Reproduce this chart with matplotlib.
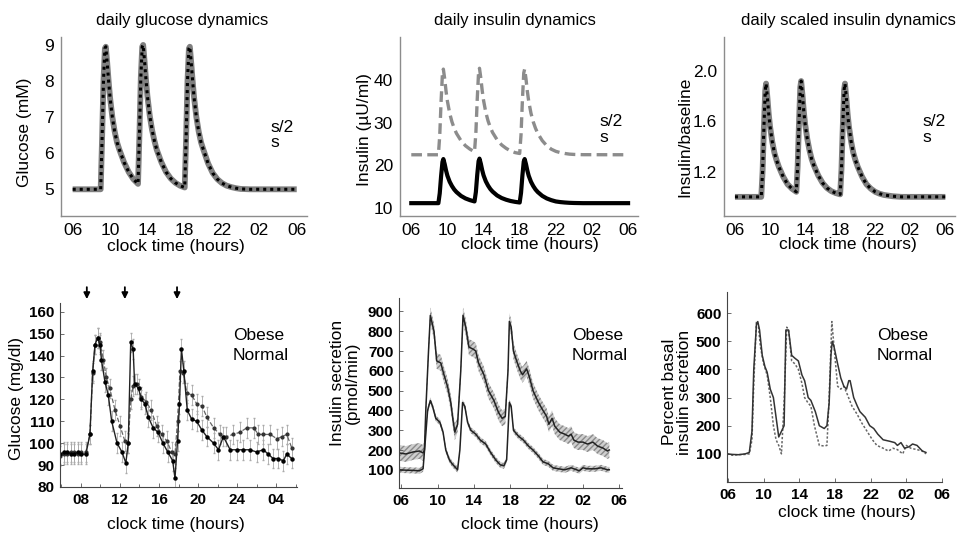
import matplotlib.pyplot as plt

plt.rcParams['font.family'] = ['Liberation Sans', 'DejaVu Sans']

# ---- model simulations (top row) ----
t_model = [6.0, 9.0,
           9.15, 9.3, 9.45, 9.55, 9.7, 9.85, 10.0, 10.25, 10.5, 10.75, 11.0, 11.5, 12.0, 12.5, 13.0,
           13.15, 13.3, 13.45, 13.55, 13.7, 13.85, 14.0, 14.25, 14.5, 14.75, 15.0, 15.5, 16.0, 16.5, 17.0, 17.5, 18.0,
           18.15, 18.3, 18.45, 18.55, 18.7, 18.85, 19.0, 19.25, 19.5, 19.75, 20.0, 20.5, 21.0, 21.5, 22.0, 22.5,
           23.0, 23.5, 24.0, 25.0, 30.0]

glucose_model = [5.0, 5.0,
                 6.4, 8.0, 8.9, 8.95, 8.5, 8.0, 7.55, 7.0, 6.6, 6.3, 6.1, 5.75, 5.48, 5.28, 5.15,
                 6.5, 8.1, 8.95, 9.0, 8.55, 8.05, 7.6, 7.05, 6.65, 6.35, 6.1, 5.75, 5.48, 5.3, 5.18, 5.1, 5.05,
                 6.4, 8.0, 8.9, 8.95, 8.5, 8.0, 7.55, 7.0, 6.6, 6.3, 6.1, 5.72, 5.45, 5.28, 5.17, 5.1,
                 5.06, 5.03, 5.01, 5.0, 5.0]

insulin_s = [11.2, 11.2,
             13.5, 17.5, 20.8, 21.5, 20.3, 18.8, 17.6, 16.2, 15.2, 14.4, 13.8, 12.9, 12.3, 11.9, 11.6,
             13.8, 17.8, 21.0, 21.6, 20.4, 18.9, 17.7, 16.3, 15.3, 14.5, 13.9, 13.0, 12.4, 12.0, 11.7, 11.5, 11.35,
             13.6, 17.6, 20.9, 21.5, 20.3, 18.8, 17.6, 16.2, 15.2, 14.4, 13.8, 12.9, 12.3, 11.9, 11.6, 11.45,
             11.35, 11.28, 11.24, 11.2, 11.2]

insulin_s2 = [22.5, 22.5,
              27.0, 35.0, 41.5, 42.5, 40.2, 37.3, 35.0, 32.2, 30.2, 28.7, 27.5, 25.8, 24.6, 23.8, 23.2,
              27.6, 35.4, 41.8, 42.7, 40.4, 37.5, 35.2, 32.4, 30.4, 28.9, 27.7, 26.0, 24.8, 24.0, 23.4, 23.0, 22.8,
              27.2, 35.1, 41.6, 42.5, 40.2, 37.3, 35.0, 32.2, 30.2, 28.7, 27.5, 25.8, 24.6, 23.8, 23.3, 23.0,
              22.8, 22.65, 22.58, 22.52, 22.5]

scaled_model = [1.0, 1.0,
                1.2, 1.55, 1.84, 1.9, 1.79, 1.66, 1.56, 1.44, 1.35, 1.29, 1.24, 1.16, 1.1, 1.065, 1.04,
                1.24, 1.58, 1.87, 1.92, 1.81, 1.68, 1.58, 1.46, 1.37, 1.3, 1.25, 1.17, 1.11, 1.07, 1.045, 1.03, 1.02,
                1.22, 1.56, 1.85, 1.9, 1.79, 1.66, 1.56, 1.44, 1.35, 1.29, 1.24, 1.16, 1.1, 1.065, 1.04, 1.025,
                1.015, 1.01, 1.005, 1.0, 1.0]

model_ticks = [6, 10, 14, 18, 22, 26, 30]
model_ticklabels = ['06', '10', '14', '18', '22', '02', '06']

# ---- measured data (bottom row) ----
glu_t_normal = [5.9, 6.3, 6.6, 7.0, 7.3, 7.7, 8.0, 8.5, 8.92, 9.2, 9.44, 9.7, 9.95, 10.1, 10.46, 10.8,
                11.15, 11.7, 12.2, 12.6, 12.85, 13.1, 13.35, 13.5, 13.9, 14.2, 14.55, 14.9, 15.4, 15.9,
                16.4, 16.9, 17.4, 17.64, 17.9, 18.1, 18.3, 18.55, 18.9, 19.35, 19.86, 20.4, 20.9, 21.6,
                22.1, 22.6, 23.3, 24.0, 24.6, 25.3, 26.0, 26.7, 27.2, 27.7, 28.2, 28.75, 29.1, 29.6]
glu_normal = [95, 96, 96, 95, 95, 96, 95, 95, 104, 133, 145, 148, 145, 138, 128, 122,
              110, 100, 96, 91, 100, 146, 143, 127, 125, 120, 118, 112, 107, 105,
              100, 96, 92, 84, 101, 118, 143, 133, 115, 111, 110, 106, 103, 100,
              97, 103, 97, 97, 97, 97, 96, 97, 95, 93, 93, 92, 95, 93]
glu_t_obese = [5.9, 6.3, 6.6, 7.0, 7.3, 7.7, 8.0, 8.5, 8.92, 9.2, 9.44, 9.7, 9.95, 10.3, 10.6, 10.95,
               11.5, 12.0, 12.5, 12.85, 13.1, 13.35, 13.7, 14.2, 14.7, 15.2, 15.75, 16.3, 16.8, 17.3,
               17.64, 17.9, 18.15, 18.5, 18.85, 19.35, 19.86, 20.4, 20.9, 21.6, 22.25, 22.9, 23.6,
               24.3, 25.0, 25.7, 26.2, 26.7, 27.4, 28.1, 28.6, 29.1, 29.6]
glu_obese = [94, 95, 95, 96, 96, 95, 96, 96, 104, 132, 145, 148, 146, 138, 130, 125,
             115, 108, 101, 100, 120, 126, 127, 121, 119, 115, 108, 104, 101, 96,
             95, 110, 133, 132, 123, 122, 118, 117, 112, 107, 104, 103, 104,
             105, 107, 107, 104, 104, 104, 102, 103, 104, 98]
glu_err = 4.5
meal_times = [8.6, 12.5, 17.85]

sec_t_obese = [5.8, 6.5, 7.3, 8.0, 8.4, 8.55, 8.7, 9.0, 9.2, 9.6, 9.9, 10.35, 10.7, 11.1, 11.45, 11.7,
               11.9, 12.2, 12.55, 12.8, 13.1, 13.45, 13.9, 14.2, 14.5, 15.1, 15.6, 16.2, 16.7, 17.1,
               17.45, 17.75, 17.9, 18.1, 18.35, 18.7, 19.1, 19.35, 19.8, 20.1, 20.5, 21.1, 21.6, 22.0,
               22.25, 22.6, 22.9, 23.45, 24.0, 24.4, 24.7, 25.0, 25.45, 26.0, 26.5, 27.1, 27.6, 28.2,
               28.7, 28.9]
sec_obese = [185, 180, 190, 195, 185, 200, 400, 700, 880, 800, 650, 640, 580, 520, 440, 350,
             290, 330, 600, 880, 820, 720, 710, 700, 640, 580, 500, 450, 390, 360,
             370, 600, 850, 820, 700, 650, 600, 580, 610, 570, 500, 440, 400, 370,
             330, 360, 320, 290, 280, 270, 280, 250, 240, 240, 230, 240, 220, 210,
             195, 200]
sec_t_normal = [5.8, 6.5, 7.3, 8.0, 8.4, 8.65, 8.9, 9.2, 9.45, 9.8, 10.25, 10.6, 10.9, 11.3, 11.6,
                12.0, 12.2, 12.45, 12.75, 13.0, 13.3, 13.65, 14.2, 14.7, 15.3, 15.8, 16.4, 16.9, 17.3,
                17.6, 17.9, 18.1, 18.35, 18.9, 19.45, 20.0, 20.5, 21.1, 21.6, 22.2, 22.7, 23.3, 24.0,
                24.7, 25.3, 25.6, 26.0, 26.5, 27.3, 28.0, 28.7, 28.9]
sec_normal = [100, 98, 97, 95, 105, 250, 400, 450, 420, 360, 340, 290, 200, 150, 130,
              110, 100, 200, 440, 420, 340, 300, 280, 250, 230, 190, 150, 125, 120,
              150, 440, 420, 300, 270, 250, 220, 200, 170, 140, 130, 110, 105, 100,
              110, 100, 95, 110, 105, 105, 110, 100, 100]
sec_band_obese = 40
sec_band_normal = 15

pct_t_obese = [5.9, 6.5, 7.2, 7.95, 8.4, 8.7, 8.9, 9.2, 9.35, 9.55, 9.85, 10.15, 10.4, 10.75, 11.1,
               11.4, 11.7, 12.0, 12.3, 12.5, 12.8, 13.15, 13.5, 13.9, 14.3, 14.6, 15.0, 15.3, 15.8,
               16.25, 16.8, 17.1, 17.35, 17.55, 17.7, 17.9, 18.3, 18.65, 19.0, 19.3, 19.55, 19.7,
               20.1, 20.5, 20.8, 21.4, 21.9, 22.35, 22.8, 23.4, 24.1, 24.7, 25.0, 25.4, 25.8, 26.3,
               26.7, 27.2, 27.8, 28.2]
pct_obese = [100, 98, 97, 100, 105, 180, 400, 560, 570, 540, 450, 410, 390, 330, 300,
             230, 160, 180, 200, 540, 540, 450, 440, 430, 380, 360, 300, 290, 250,
             200, 190, 200, 280, 450, 500, 480, 420, 370, 340, 330, 360, 360,
             300, 270, 250, 230, 200, 190, 170, 150, 145, 140, 130, 140, 120, 125,
             135, 130, 110, 105]
pct_t_normal = [5.9, 6.5, 7.2, 7.95, 8.4, 8.7, 8.9, 9.2, 9.4, 9.65, 10.0, 10.4, 10.75, 11.1, 11.4,
                11.7, 12.0, 12.3, 12.6, 12.8, 13.15, 13.5, 13.9, 14.3, 14.6, 15.0, 15.3, 15.7, 16.25,
                16.8, 17.1, 17.35, 17.65, 17.9, 18.3, 18.65, 19.0, 19.4, 19.9, 20.5, 21.0, 21.6, 22.2,
                22.7, 23.4, 24.0, 24.5, 25.0, 25.6, 26.0, 26.5, 27.2, 27.8, 28.2]
pct_normal = [100, 95, 97, 98, 100, 150, 350, 570, 560, 480, 420, 380, 300, 200, 150,
              130, 100, 280, 550, 540, 430, 420, 400, 350, 300, 280, 270, 200, 130,
              128, 130, 300, 570, 480, 340, 330, 340, 310, 270, 240, 210, 180, 150,
              130, 120, 110, 120, 115, 100, 130, 120, 115, 110, 100]

fig = plt.figure(figsize=(9.57, 5.37), dpi=100)
W, H = 957, 537


def add_panel(left, top, right, bottom):
    return fig.add_axes([left / W, 1 - bottom / H, (right - left) / W, (bottom - top) / H])


def fig_text(x, y, s, **kw):
    fig.text(x / W, 1 - y / H, s, **kw)


def style_top(ax):
    for side in ['top', 'right']:
        ax.spines[side].set_visible(False)
    for side in ['left', 'bottom']:
        ax.spines[side].set_color('#8c8c8c')
        ax.spines[side].set_linewidth(1.0)
    ax.tick_params(length=0, labelsize=12.5, pad=5)
    ax.set_xlim(4.75, 31.1)
    ax.set_xticks(model_ticks)
    ax.set_xticklabels(model_ticklabels)


def style_bottom(ax):
    for side in ['top', 'right']:
        ax.spines[side].set_visible(False)
    for side in ['left', 'bottom']:
        ax.spines[side].set_color('#444444')
        ax.spines[side].set_linewidth(0.8)
    ax.tick_params(direction='in', length=3, width=0.6, labelsize=11, pad=4, color='#555555')
    for lab in ax.get_xticklabels() + ax.get_yticklabels():
        lab.set_fontweight('bold')


# top-left: glucose model
ax1 = add_panel(61, 37, 307, 216)
style_top(ax1)
ax1.plot(t_model, glucose_model, color='#7f7f7f', lw=4.2, solid_capstyle='butt')
ax1.plot(t_model, glucose_model, color='black', lw=2.2, linestyle=(0, (1, 1.3)))
ax1.set_ylim(4.26, 9.22)
ax1.set_yticks([5, 6, 7, 8, 9])

# top-middle: insulin model
ax2 = add_panel(400, 37, 638, 216)
style_top(ax2)
ax2.plot(t_model, insulin_s2, color='#8c8c8c', lw=2.4, linestyle=(0, (3.2, 1.6)))
ax2.plot(t_model, insulin_s, color='black', lw=3.0)
ax2.set_ylim(8.2, 50)
ax2.set_yticks([10, 20, 30, 40])

# top-right: scaled insulin model
ax3 = add_panel(724, 37, 955, 216)
style_top(ax3)
ax3.plot(t_model, scaled_model, color='#7f7f7f', lw=4.2, solid_capstyle='butt')
ax3.plot(t_model, scaled_model, color='black', lw=2.2, linestyle=(0, (1, 1.3)))
ax3.set_ylim(0.848, 2.27)
ax3.set_yticks([1.2, 1.6, 2.0])
ax3.set_yticklabels(['1.2', '1.6', '2.0'])

# bottom-left: measured glucose
ax4 = add_panel(60, 303, 297, 487)
ax4.errorbar(glu_t_obese, glu_obese, yerr=glu_err, color='#666666', lw=0.9, ls='--',
             marker='o', ms=2.0, mfc='#333333', mec='#333333', ecolor='#aaaaaa', elinewidth=0.6, capsize=1.0)
ax4.errorbar(glu_t_normal, glu_normal, yerr=glu_err, color='#222222', lw=1.0,
             marker='o', ms=2.2, mfc='black', mec='black', ecolor='#aaaaaa', elinewidth=0.6, capsize=1.0)
ax4.set_xlim(5.85, 30.15)
ax4.set_ylim(80, 164)
ax4.set_yticks(list(range(80, 161, 10)))
ax4.set_xticks([8, 12, 16, 20, 24, 28])
ax4.set_xticklabels(['08', '12', '16', '20', '24', '04'])
ax4.set_xticks([6, 10, 14, 18, 22, 26, 30], minor=True)
style_bottom(ax4)
ax4.tick_params(which='minor', direction='in', length=2, width=0.6, color='#555555')
for m in meal_times:
    ax4.annotate('', xy=(m, 164.5), xytext=(m, 172.5), annotation_clip=False,
                 arrowprops=dict(arrowstyle='-|>', color='black', lw=1.3, mutation_scale=9))

# bottom-middle: insulin secretion
ax5 = add_panel(399, 298, 622, 488)
ax5.fill_between(sec_t_obese, [v - sec_band_obese for v in sec_obese], [v + sec_band_obese for v in sec_obese],
                 facecolor='#cfcfcf', edgecolor='#8a8a8a', hatch='//////', linewidth=0)
ax5.fill_between(sec_t_normal, [v - sec_band_normal for v in sec_normal], [v + sec_band_normal for v in sec_normal],
                 facecolor='#cfcfcf', edgecolor='#8a8a8a', hatch='//////', linewidth=0)
ax5.plot(sec_t_obese, sec_obese, color='#222222', lw=1.1)
ax5.plot(sec_t_normal, sec_normal, color='#222222', lw=1.1)
ax5.set_xlim(5.75, 30.3)
ax5.set_ylim(8, 968)
ax5.set_yticks(list(range(100, 901, 100)))
ax5.set_xticks(model_ticks)
ax5.set_xticklabels(model_ticklabels)
style_bottom(ax5)

# bottom-right: percent basal secretion
ax6 = add_panel(727, 292, 942, 482)
ax6.plot(pct_t_normal, pct_normal, color='#666666', lw=1.1, linestyle=(0, (1.5, 1.2)))
ax6.plot(pct_t_obese, pct_obese, color='#333333', lw=1.1)
ax6.set_xlim(5.9, 30.0)
ax6.set_ylim(0, 675)
ax6.set_yticks([100, 200, 300, 400, 500, 600])
ax6.set_xticks(model_ticks)
ax6.set_xticklabels(model_ticklabels)
style_bottom(ax6)

# titles, labels and annotations
fs = 12
fig_text(182, 20, 'daily glucose dynamics', ha='center', va='center', fontsize=fs)
fig_text(515, 20, 'daily insulin dynamics', ha='center', va='center', fontsize=fs)
fig_text(848, 20, 'daily scaled insulin dynamics', ha='center', va='center', fontsize=fs)

for x, y in [(176, 246), (530, 245), (848, 245), (176, 525), (530, 525), (847, 513)]:
    fig_text(x, y, 'clock time (hours)', ha='center', va='center', fontsize=12.5)

fig_text(25, 132, 'Glucose (mM)', ha='center', va='center', rotation=90, fontsize=12.5)
fig_text(365, 130, 'Insulin (µU/ml)', ha='center', va='center', rotation=90, fontsize=12.5)
fig_text(685, 137, 'Insulin/baseline', ha='center', va='center', rotation=90, fontsize=12.5)
fig_text(17, 398, 'Glucose (mg/dl)', ha='center', va='center', rotation=90, fontsize=12.5)
fig_text(345, 383, 'Insulin secretion\n(pmol/min)', ha='center', va='center', rotation=90,
         fontsize=12.5, linespacing=1.05)
fig_text(677, 392, 'Percent basal\ninsulin secretion', ha='center', va='center', rotation=90,
         fontsize=12.5, linespacing=1.05)

for x, y in [(270, 127), (599, 122), (922, 122)]:
    fig_text(x, y, 's/2', ha='left', va='center', fontsize=12.5)
    fig_text(x, y + 15, 's', ha='left', va='center', fontsize=12.5)

for x in [233, 572, 877]:
    fig_text(x, 335, 'Obese', ha='left', va='center', fontsize=12.5)
    fig_text(x, 355, 'Normal', ha='left', va='center', fontsize=12.5)

fig.savefig('out.png', dpi=100)
